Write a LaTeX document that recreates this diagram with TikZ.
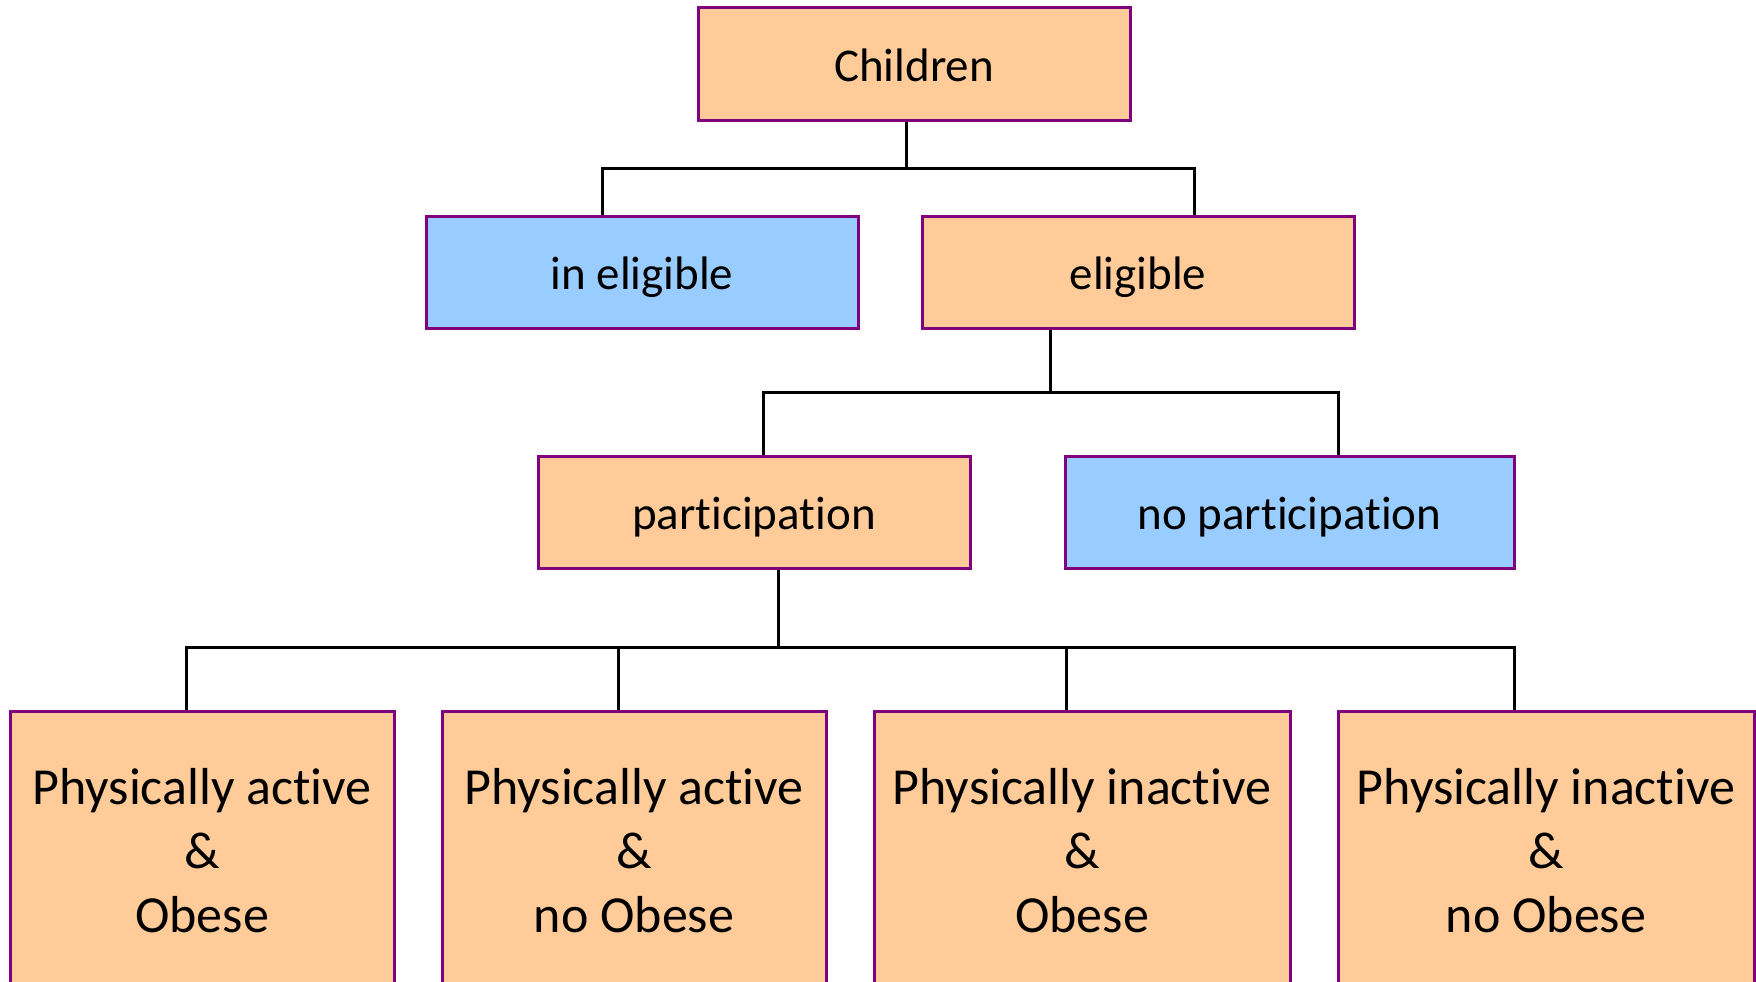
\documentclass[tikz,border=0pt]{standalone}
\usepackage{fontspec}
\setmainfont[Ligatures=NoCommon]{Carlito}
\definecolor{peach}{HTML}{FFCC99}
\definecolor{skyb}{HTML}{99CCFF}
\definecolor{edgep}{HTML}{800080}
\begin{document}
\begin{tikzpicture}[x=1pt,y=-1pt,
  box/.style={draw=edgep,line width=3pt,rectangle,inner sep=0pt,align=center,
    font=\fontsize{47}{57}\selectfont,minimum height=112pt,text height=35pt,text depth=0pt},
  orbox/.style={box,fill=peach},
  blbox/.style={box,fill=skyb},
  leaf/.style={draw=edgep,line width=3pt,rectangle,inner sep=0pt,align=center,fill=peach,
    minimum height=280pt,font=\fontsize{52}{64}\selectfont},
  conn/.style={draw=black,line width=3pt}]
\clip (0,0) rectangle (1756,982);
\fill[white] (0,0) rectangle (1756,982);
\node[orbox,minimum width=432pt] (children) at (914,64) {Children};
\node[blbox,minimum width=432pt] (inel) at (642,272) {in eligible};
\node[orbox,minimum width=432pt] (elig) at (1138,272) {eligible};
\node[orbox,minimum width=432pt] (part) at (754,512) {participation};
\node[blbox,minimum width=449pt] (nopart) at (1289.5,512) {no participation};
\node[leaf,minimum width=384pt] (l1) at (202,851) {Physically active\\\&\\Obese};
\node[leaf,minimum width=384pt] (l2) at (634,851) {Physically active\\\&\\no Obese};
\node[leaf,minimum width=416pt] (l3) at (1082,851) {Physically inactive\\\&\\Obese};
\node[leaf,minimum width=416pt] (l4) at (1546,851) {Physically inactive\\\&\\no Obese};
% level 1
\coordinate (a0) at (906,168);
\coordinate (a1) at (602,168);
\coordinate (a2) at (1194,168);
\draw[conn] (children.south -| a0) -- (a0);
\draw[conn] (inel.north -| a1) -- (a1) -- (a2) -- (elig.north -| a2);
% level 2
\coordinate (b0) at (1050,392);
\coordinate (b1) at (763,392);
\coordinate (b2) at (1338,392);
\draw[conn] (elig.south -| b0) -- (b0);
\draw[conn] (part.north -| b1) -- (b1) -- (b2) -- (nopart.north -| b2);
% level 3
\coordinate (c0) at (778,647);
\coordinate (c1) at (186,647);
\coordinate (c2) at (618,647);
\coordinate (c3) at (1066,647);
\coordinate (c4) at (1514,647);
\draw[conn] (part.south -| c0) -- (c0);
\draw[conn] (l1.north -| c1) -- (c1) -- (c4) -- (l4.north -| c4);
\draw[conn] (l2.north -| c2) -- (c2);
\draw[conn] (l3.north -| c3) -- (c3);
\end{tikzpicture}
\end{document}
